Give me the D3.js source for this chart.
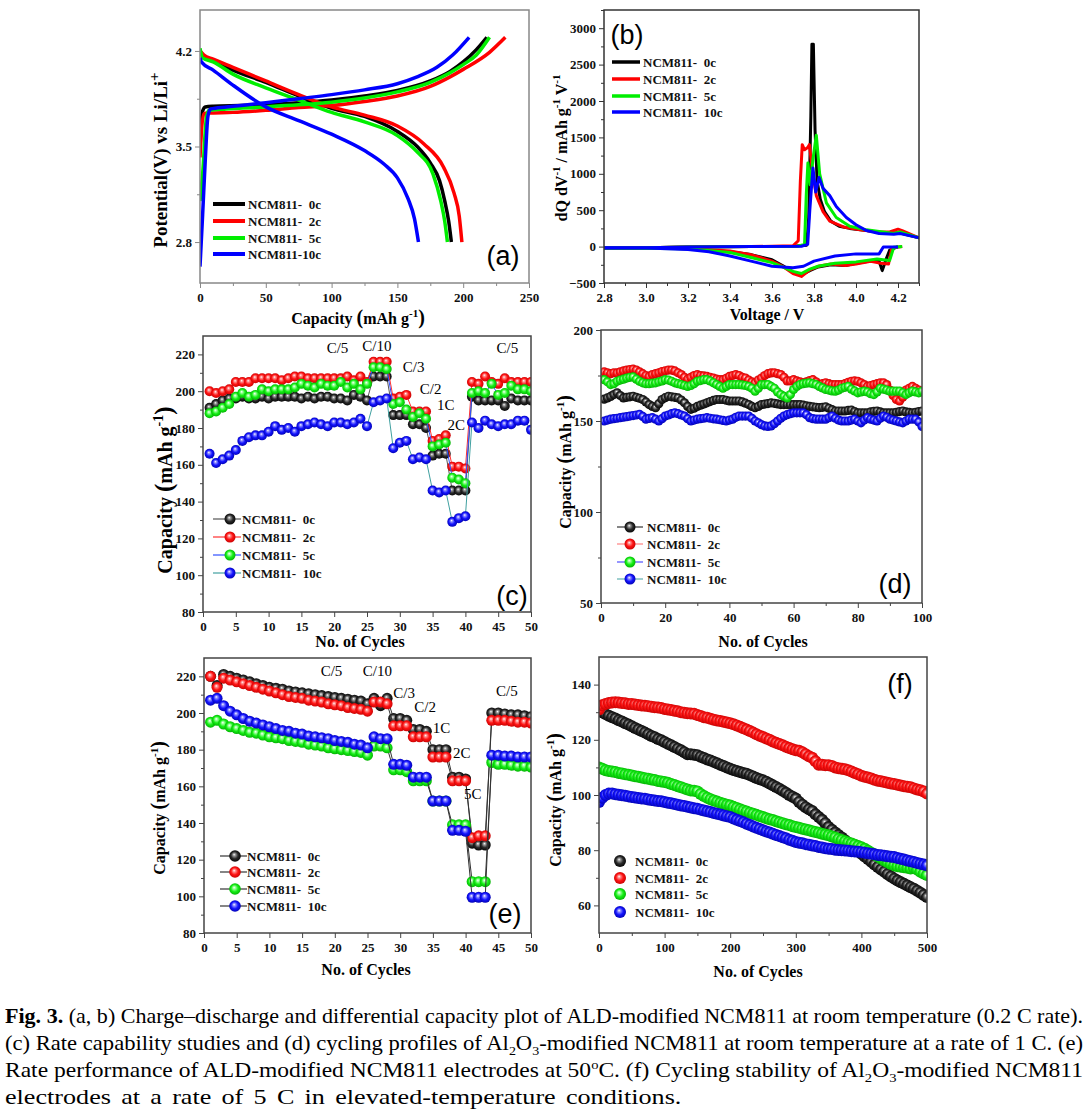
<!DOCTYPE html>
<html><head><meta charset="utf-8">
<script src="https://cdn.jsdelivr.net/npm/d3@7"></script>
<style>
body{margin:0;background:#fff;}
#caption{position:absolute;left:5px;top:1003px;width:1079px;font-family:"Liberation Serif","Times New Roman",serif;font-size:21px;line-height:27px;color:#000;}
#caption .ln{height:27px;white-space:nowrap;}
#caption .ln span{display:inline-block;white-space:nowrap;transform-origin:0 0;}
#caption sub{font-size:13px;line-height:0;}
#caption sup{font-size:13px;line-height:0;}
</style></head>
<body>
<svg id="fig" width="1090" height="1000"></svg>
<div id="caption">
<div class="ln"><span><b>Fig. 3.</b> (a, b) Charge–discharge and differential capacity plot of ALD-modified NCM811 at room temperature (0.2 C rate).</span></div>
<div class="ln"><span>(c) Rate capability studies and (d) cycling profiles of Al<sub>2</sub>O<sub>3</sub>-modified NCM811 at room temperature at a rate of 1 C. (e)</span></div>
<div class="ln"><span>Rate performance of ALD-modified NCM811 electrodes at 50<sup>o</sup>C. (f) Cycling stability of Al<sub>2</sub>O<sub>3</sub>-modified NCM811</span></div>
<div class="ln"><span>electrodes at a rate of 5 C in elevated-temperature conditions.</span></div>
</div>
<script>
// ---------------- DATA ----------------
const seriesNames = ["NCM811-  0c","NCM811-  2c","NCM811-  5c","NCM811-  10c"];
const seriesNamesA = ["NCM811-  0c","NCM811-  2c","NCM811-  5c","NCM811-10c"];

// (a) charge / discharge curves [capacity mAh/g, potential V]
const aChargeK = [[0,3.48],[1,3.68],[2,3.76],[4,3.79],[10,3.795],[30,3.80],[50,3.805],[75,3.82],[100,3.84],[125,3.87],[150,3.91],[175,3.98],[190,4.05],[200,4.12],[210,4.21],[218,4.30]];
const aChargeR = [[0,3.42],[1,3.6],[3,3.74],[6,3.745],[25,3.75],[50,3.765],[75,3.785],[100,3.80],[125,3.83],[150,3.87],[175,3.94],[190,4.01],[200,4.065],[220,4.19],[232,4.30]];
const aChargeG = [[0,3.10],[2,3.3],[5,3.72],[7,3.765],[20,3.775],[50,3.79],[75,3.805],[100,3.825],[125,3.855],[150,3.90],[175,3.97],[190,4.04],[200,4.10],[210,4.17],[220,4.30]];
const aChargeB = [[0,2.62],[2,3.0],[4,3.4],[6,3.72],[8,3.775],[20,3.79],[50,3.82],[75,3.85],[100,3.88],[125,3.915],[150,3.96],[165,4.01],[180,4.08],[192,4.17],[204.5,4.30]];
const aDisK = [[0,4.2],[3,4.16],[10,4.13],[25,4.06],[50,3.97],[75,3.87],[100,3.78],[125,3.72],[150,3.61],[165,3.50],[175,3.38],[182,3.25],[186,3.10],[189,2.95],[191,2.80]];
const aDisR = [[0,4.2],[3,4.17],[10,4.14],[25,4.08],[50,3.98],[75,3.88],[100,3.79],[125,3.73],[150,3.65],[170,3.52],[185,3.35],[193,3.16],[197,2.99],[199,2.80]];
const aDisG = [[0,4.22],[2,4.15],[10,4.12],[25,4.03],[50,3.93],[75,3.84],[100,3.75],[125,3.68],[150,3.58],[165,3.46],[177,3.30],[183,3.10],[186,2.95],[188,2.80]];
const aDisB = [[0,4.15],[1,4.12],[10,4.06],[25,3.95],[50,3.79],[75,3.69],[100,3.59],[125,3.47],[140,3.37],[150,3.27],[158,3.12],[163,2.97],[166,2.80]];
const aXTicks = [0,50,100,150,200,250];
const aXMinor = [25,75,125,175,225];
const aYTicks = [2.8,3.5,4.2];
const aYMinor = [3.15,3.85];

// (b) dQ/dV [voltage V, dQ/dV]
const bChgK = [[2.8,-20],[3.0,-15],[3.2,-5],[3.5,0],[3.7,5],[3.765,20],[3.775,400],[3.785,1800],[3.79,2780],[3.797,2780],[3.805,1600],[3.815,900],[3.83,650],[3.85,480],[3.88,350],[3.92,280],[3.97,250],[4.05,220],[4.1,200],[4.15,180],[4.2,190],[4.22,180],[4.3,120]];
const bChgR = [[2.8,-20],[3.0,-15],[3.2,-5],[3.5,0],[3.7,10],[3.725,80],[3.735,900],[3.744,1400],[3.755,1330],[3.77,1360],[3.778,1400],[3.786,1200],[3.795,1000],[3.811,700],[3.843,480],[3.875,350],[3.94,270],[4.02,230],[4.10,200],[4.16,200],[4.2,240],[4.22,220],[4.3,120]];
const bChgG = [[2.8,-20],[3.0,-15],[3.2,-5],[3.5,0],[3.72,5],[3.755,30],[3.763,700],[3.771,1150],[3.782,850],[3.795,1200],[3.811,1530],[3.827,1000],[3.859,600],[3.906,400],[3.97,280],[4.05,230],[4.18,180],[4.21,200],[4.3,120]];
const bChgB = [[2.8,-20],[3.0,-15],[3.2,-5],[3.5,0],[3.74,5],[3.77,30],[3.78,500],[3.795,1080],[3.808,750],[3.824,950],[3.843,800],[3.875,700],[3.906,550],[3.954,400],[4.0,300],[4.05,220],[4.11,180],[4.18,170],[4.21,180],[4.27,140],[4.3,120]];
const bDisK = [[4.2,0],[4.16,-50],[4.14,-200],[4.125,-330],[4.11,-200],[4.06,-200],[4.0,-230],[3.95,-260],[3.88,-250],[3.82,-280],[3.78,-330],[3.74,-390],[3.7,-350],[3.65,-260],[3.6,-180],[3.5,-110],[3.4,-70],[3.2,-30],[3.0,-20],[2.8,-20]];
const bDisR = [[4.22,0],[4.17,-20],[4.155,-240],[4.12,-230],[4.07,-200],[4.0,-240],[3.95,-260],[3.88,-240],[3.82,-270],[3.78,-320],[3.74,-410],[3.7,-370],[3.65,-270],[3.6,-200],[3.5,-110],[3.4,-60],[3.2,-25],[2.8,-20]];
const bDisG = [[4.22,0],[4.18,-10],[4.16,-190],[4.1,-170],[4.0,-210],[3.9,-230],[3.82,-270],[3.78,-310],[3.74,-370],[3.7,-340],[3.65,-280],[3.6,-220],[3.5,-150],[3.4,-80],[3.2,-30],[2.8,-20]];
const bDisB = [[4.2,-5],[4.13,-5],[4.11,-100],[4.0,-100],[3.9,-130],[3.8,-200],[3.75,-270],[3.7,-290],[3.6,-270],[3.5,-200],[3.4,-130],[3.3,-70],[3.2,-40],[3.0,-20],[2.8,-15]];
const bXTicks = [2.8,3.0,3.2,3.4,3.6,3.8,4.0,4.2];
const bXMinor = [2.9,3.1,3.3,3.5,3.7,3.9,4.1,4.3];
const bYTicks = [-500,0,500,1000,1500,2000,2500,3000];
const bYMinor = [-250,250,750,1250,1750,2250,2750,3250];

// (c) rate capability, room temperature, cycles 1..50
const cCycles = d3.range(1,51);
const cK = [191,193,195,196,196,197,196,196,197,196,197,197,197,197,196,197,196,197,197,196,196,195,198,197,195, 208,208,208, 187,187,187, 182,182,180, 165,166,166, 146,146,146, 197,195,195,195,195,192,196,195,195,195];
const cR = [200,199,200,201,205,205,205,207,207,207,207,206,207,208,208,207,207,207,207,207,207,208,206,208,205, 216,216,216, 196,197,198, 189,189,189, 173,174,176, 159,159,158, 205,204,208,205,204,207,205,205,205,205];
const cG = [188,189,191,193,197,199,197,198,201,200,201,201,201,202,204,203,202,204,203,203,205,202,204,201,204, 213,213,212, 193,194,190, 186,188,185, 170,171,172, 153,152,150, 199,200,199,204,198,199,203,201,201,200];
const cB = [166,161,163,165,168,173,175,176,176,178,181,179,180,178,181,182,183,182,181,183,183,182,183,185,181, 194,195,196, 169,172,173, 163,164,163, 146,145,146, 129,131,132, 183,180,184,182,181,182,182,184,184,179];
const cRates = [["C/5",20.5,220.5],["C/10",26.5,222],["C/3",32.1,210.4],["C/2",34.7,198.4],["1C",37,189.9],["2C",38.6,178.7],["C/5",46.4,220.5]];

// (d) cycling at 1 C, cycles 1..100
const dCycles = d3.range(1,101);
const dK = [162,162.7,163.5,164.5,165.5,164,162.7,163,163.3,163.6, 163,162.5,161.8,160.5,159,158,157.3,159.5,161.8,162.8, 163.6,163.3,163,162.7,161.5,160,158,156.4,157,158, 158.7,159.3,160,160.7,161.3,161.8,161.8,161.8,161.4,161, 161,161,161,160.5,159.8,159,158,157.3,158,159, 159.3,159.6,160,159.7,159.4,159,159,159,159,159, 159,159,158.7,158.3,158,157.8,157.5,157.3,157.5,157.8, 157,156.2,155.5,155.5,155.5,155.5,155.8,156,155.2,154.5, 154.5,154.5,154.5,155,155.3,155.5,155,154.5,154.5,154.5, 154.5,154.8,155.2,155.5,155,154.7,154.5,154.8,155.2,155.5];
const dR = [177,176.5,176,176.5,176.4,177,177.5,178,178.3,178.5, 178,177,176,175,174.5,175.5,176,176.5,177.2,177.6, 178,178,177.5,176.5,175.5,174,173,174,175,175.5, 175,174.8,174.5,174,173.6,173,172.7,172.7,173.5,174.5, 175,175.5,175,174,173.6,172.5,171.5,171,172.5,173.6, 175,176,176.4,176.5,176,175.5,174,172,172,172.7, 172,171.5,171,171.5,172.2,172.7,171.5,170,170.5,171, 170.5,170,170,170,170,170.5,171.3,171.8,172,171.8, 171,170,169,169.5,170,170.5,171,171,170,167, 164,161.8,161,163,167,168,169,168,167,166];
const dG = [172.7,171.5,170,170.5,171.8,172.5,173,173.6,174,174.2, 173,171.8,171,170.5,170.5,170.8,171,171.5,172,172.7, 172.5,171.8,171,170.5,170,169.5,169,169.5,170.5,171.8, 172.2,172.7,172.7,172,171,170,169,168,169,170, 170,170,170,169.8,169.5,169,168,166.4,168,170, 170,170,169,168,166,164.5,163.5,162.7,164.5,167.3, 169,170,170.5,170.8,171,170.5,170,169,168.2,167.3, 167,166.5,166.4,167,168,168.5,169,167.5,166.5,165.5, 166,166.4,166,165,164.5,166,168,167.5,167,166.4, 166.4,166.4,166.4,165.5,164.5,165.5,166.4,166,165.5,166.4];
const dB = [150,150.5,151,151.3,151.5,151.8,152.1,152.4,152.7,153, 153.3,153.6,152.5,151,151.4,151.8,151,150,151.3,152.7, 153.3,154,154.5,154,153.3,152.7,151.3,150,150.5,151, 151.3,151.5,151.8,151.5,151.2,151,150.7,150.3,150,150.5, 151,152,152.7,152.7,152.7,152.7,151.5,150,149,148, 147.3,147,147.3,148.5,150,151.5,152.7,153.5,154,154.5, 154.5,154.5,154.5,153.5,151.8,151.3,151,151,151,151, 151.8,152.7,151.5,150.5,150,150,150,150.5,151,150, 149,150.5,151.8,151,150.5,150,151.5,152.7,152,151, 150.5,150,149.5,149,150,151,151,151,149.5,147];

// (e) rate performance at 50 C, cycles 1..50
const eCycles = d3.range(1,51);
const eK = [220,215,221,220,219,218,217,216,215,214,213.5,213,212,211.5,211,210.5,210,209.5,209,208.5,208,207.5,207,206.5,205, 208,204,208, 197,197,196, 191,191,190, 180,180,180, 165,165,164, 129,128,128, 200,200,199.5,199,199,198.5,198];
const eR = [220,214,219,218,217,216,215,214,213,212,211,210,209,208.5,208,207,206.5,206,205,204.5,204,203,202.5,202,201, 206,206,205, 193,193,193, 187,187,187, 176,176,176, 163,163,163, 132,133,133, 196,196,196,195.5,195,195,194.5];
const eG = [195,196,194,192.5,191.5,190.5,189.5,189,188,187,186.5,186,185,184.5,184,183,182.5,182,181,180.5,180,179.5,179,178.5,177, 182,182,181, 169,169,168, 163,163,163, 152,152,152, 139,139,139, 108,108,108, 173,172,172,171.5,171,171,170.5];
const eB = [207,208,204,201,199,197,195.5,194.5,193.5,192.5,191.5,190.5,190,189,188.5,187.5,187,186.5,186,185,184.5,184,183,182.5,181, 187,186,186, 172,172,171.5, 165,165,165, 152,152,152, 136,136,135.5, 99.5,99.5,99.5, 177,177,176.5,176.5,176,176,176];
const eRates = [["C/5",19.5,220],["C/10",26.5,220],["C/3",30.6,208],["C/2",33.8,200.5],["1C",36.3,189],["2C",39.4,175.2],["5C",41.1,153],["C/5",46.3,209.5]];

// (f) cycling at 5 C, cycles 0..500 every 5
const fCycles = d3.range(0,501,5);
const fK = [130.5,130,129.3,128.7,128.2,127.7,127.1,126.6,126,125.5, 124.9,124.3,123.7,123.2,122.6,122,121.4,120.9,120.3,119.8, 119.2,118.6,118,117.4,116.8,116.2,115.5,114.8,114.8,114.6, 114.4,113.9,113.4,112.9,112.5,112,111.5,111,110.5,110, 109.5,109.1,108.7,108.3,108,107.7,107.2,106.7,106.2,105.7, 105.3,104.8,104.2,103.5,102.9,102.3,101.5,100.8,100,99.4, 98.7,97.5,96.5,95.6,94.8,94.2,93,92,91,89.8, 88.4,87.4,86.4,85.5,84.6,83.6,82.6,81.6,80.6,79.6, 78.7,77.7,76.8,75.8,74.8,73.9,73,72.2,71.3,70.5, 69.7,69,68.4,67.8,67.2,66.6,66,65.3,64.6,63.8, 63];
const fR = [131,132.5,133,133.3,133.5,133.6,133.5,133.3,133.2,133, 133,132.8,132.6,132.4,132.3,132.2,132,131.8,131.7,131.5, 131.2,131,130.8,130.5,130.3,130,129.8,129.6,129.5,129.4, 129,128.6,128.2,128,127.6,127.3,127,126.8,126.5,126.3, 126,125.6,125.2,124.7,124.2,123.7,123.2,122.6,122,121.5, 121,120.5,120,119.4,118.9,118.5,118,117.5,117,116.6, 116.2,116,115.5,114.8,114,113.5,112.2,111,111,110.8, 110.8,110.5,110,109.7,109.5,109.3,109,108.5,108,107.5, 107,106.6,106.3,106,105.5,105.2,105,104.7,104.4,104.2, 104,103.7,103.4,103.2,103,102.8,102.4,102,101.7,101.3, 100.5];
const fG = [110,109.5,109,108.7,108.5,108.3,108,107.8,107.5,107.3, 107.1,106.8,106.6,106.3,106.1,105.9,105.6,105.4,105.1,104.9, 104.7,104.4,104,103.6,103.2,102.8,102.4,102,101.6,101.5, 101.3,100.4,99.6,99,98.5,98,97.6,97.2,96.8,96.5, 96.2,95.7,95.3,94.8,94.4,94,93.6,93.2,92.8,92.4, 92,91.6,91.2,90.9,90.5,90.1,89.8,89.4,89.1,88.7, 88.4,88.1,87.8,87.5,87.2,86.9,86.6,86.3,86,85.7, 85.4,85,84.6,84.1,83.7,83.2,82.8,82.4,82,81.5, 81.1,80.5,79.8,79.1,78.4,77.7,77,76.3,75.6,75, 74.5,74.2,74,73.8,73.6,73.4,73.6,73,72.2,71.6, 71];
const fB = [97.5,99,100,100.5,100.5,100.3,100.1,99.9,99.7,99.5, 99.3,99.1,98.9,98.7,98.6,98.4,98.2,98,97.8,97.7, 97.5,97.2,97,96.7,96.5,96.2,96,95.7,95.5,95.2, 95,94.7,94.4,94.1,93.8,93.5,93.2,92.9,92.6,92.3, 92,91.5,91,90.6,90.1,89.6,89.1,88.6,88.1,87.7, 87.2,86.8,86.4,86,85.5,85.1,84.7,84.3,83.8,83.4, 83,82.7,82.5,82.2,82,81.7,81.5,81.2,81,80.7, 80.5,80.4,80.2,80.1,80,79.9,79.8,79.6,79.5,79.4, 79.3,79.1,78.9,78.7,78.5,78.3,78.2,78,77.8,77.6, 77.5,77.2,76.9,76.6,76.3,76,75.7,75.4,75.1,74.8, 74.5];

const rateXTicks = [0,5,10,15,20,25,30,35,40,45,50];
const rateYTicks = [80,100,120,140,160,180,200,220];
const rateYMinor = [90,110,130,150,170,190,210];
const dXTicks = [0,20,40,60,80,100];
const dXMinor = [10,30,50,70,90];
const dYTicks = [50,100,150,200];
const dYMinor = [75,125,175];
const fXTicks = [0,100,200,300,400,500];
const fXMinor = [50,150,250,350,450];
const fYTicks = [60,80,100,120,140];
const fYMinor = [70,90,110,130];

// ---------------- DRAWING ----------------
const SERIF = '"Liberation Serif","Times New Roman",serif';
const SANS = '"Liberation Sans",Arial,sans-serif';
const svg = d3.select('#fig');
const defs = svg.append('defs');
const LINE = {k:'#000000', r:'#ff0000', g:'#00ee00', b:'#0000ff'};

function ballGrad(id, cols){
  const gr = defs.append('radialGradient').attr('id',id)
    .attr('cx','0.5').attr('cy','0.5').attr('r','0.55').attr('fx','0.42').attr('fy','0.36');
  [0,0.2,0.55,1].forEach((o,i)=>gr.append('stop').attr('offset',o).attr('stop-color',cols[i]));
}
ballGrad('ballK',['#ffffff','#9a9a9a','#2a2a2a','#000000']);
ballGrad('ballR',['#ffffff','#ff9090','#ff1414','#c00000']);
ballGrad('ballG',['#ffffff','#a0ffa0','#16f016','#00a800']);
ballGrad('ballB',['#ffffff','#9090ff','#1414ff','#0000a8']);

let clipN = 0;
function panel(o){
  const g = svg.append('g');
  const x = d3.scaleLinear().domain(o.xd).range([o.L,o.R]);
  const y = d3.scaleLinear().domain(o.yd).range([o.B,o.T]);
  const fc = o.frame || '#444';
  const ax = (sel)=>{ sel.select('.domain').remove(); sel.selectAll('line').attr('stroke',fc);
    sel.selectAll('text').style('font-family',SERIF).style('font-size','13px').style('font-weight','bold').attr('fill','#111'); };
  if(o.xMinor) g.append('g').attr('transform',`translate(0,${o.B})`).call(d3.axisBottom(x).tickValues(o.xMinor).tickSize(3).tickFormat('')).call(ax);
  g.append('g').attr('transform',`translate(0,${o.B})`).call(d3.axisBottom(x).tickValues(o.xt).tickSize(5).tickPadding(5).tickFormat(o.xf)).call(ax);
  if(o.yMinor) g.append('g').attr('transform',`translate(${o.L},0)`).call(d3.axisLeft(y).tickValues(o.yMinor).tickSize(3).tickFormat('')).call(ax);
  g.append('g').attr('transform',`translate(${o.L},0)`).call(d3.axisLeft(y).tickValues(o.yt).tickSize(5).tickPadding(3).tickFormat(o.yf)).call(ax);
  const id = 'clip'+(clipN++);
  defs.append('clipPath').attr('id',id).append('rect').attr('x',o.L).attr('y',o.T).attr('width',o.R-o.L).attr('height',o.B-o.T);
  const plot = g.append('g').attr('clip-path',`url(#${id})`);
  g.append('rect').attr('x',o.L).attr('y',o.T).attr('width',o.R-o.L).attr('height',o.B-o.T)
    .attr('fill','none').attr('stroke',fc).attr('stroke-width',o.fw||1.5);
  return {g,x,y,plot};
}

function curve(p, pts, color, w){
  p.plot.append('path').datum(pts)
    .attr('d', d3.line().x(d=>p.x(d[0])).y(d=>p.y(d[1])).curve(d3.curveMonotoneX))
    .attr('fill','none').attr('stroke',color).attr('stroke-width',w).attr('stroke-linejoin','round');
}
function curveAny(p, pts, color, w){
  p.plot.append('path').datum(pts)
    .attr('d', d3.line().x(d=>p.x(d[0])).y(d=>p.y(d[1])).curve(d3.curveLinear))
    .attr('fill','none').attr('stroke',color).attr('stroke-width',w).attr('stroke-linejoin','round');
}
function balls(p, xs, ys, grad, r, lineColor){
  const pts = ys.map((v,i)=>[xs[i],v]);
  if(lineColor) p.plot.append('path').datum(pts)
    .attr('d', d3.line().x(d=>p.x(d[0])).y(d=>p.y(d[1])))
    .attr('fill','none').attr('stroke',lineColor).attr('stroke-width',1);
  p.plot.append('g').selectAll('circle').data(pts).join('circle')
    .attr('cx',d=>p.x(d[0])).attr('cy',d=>p.y(d[1])).attr('r',r).attr('fill',`url(#${grad})`);
}
function label(x,y,txt,opt={}){
  const t = svg.append('text').attr('x',x).attr('y',y).attr('text-anchor',opt.anchor||'middle')
    .style('font-size',(opt.size||16)+'px').style('font-weight',opt.weight||'bold')
    .style('font-family',opt.family||SERIF).attr('fill','#000');
  if(opt.rot) t.attr('transform',`rotate(-90,${x},${y})`);
  if(typeof txt==='string') t.text(txt);
  else txt.forEach(s=>{ const ts=t.append('tspan').text(s.t); if(s.dy) ts.attr('dy',s.dy); if(s.size) ts.style('font-size',s.size+'px'); });
  return t;
}
function capLabel(k){ return [{t:'Capacity '},{t:'(',size:Math.round(20*k)},{t:'mAh g'},{t:'-1',dy:-7*k,size:Math.round(11*k)},{t:')',dy:7*k,size:Math.round(20*k)}]; }
function panelLetter(x,y,s){ label(x,y,s,{size:27,weight:'normal',family:SANS}); }
function legendText(x,y,s){
  svg.append('text').attr('x',x).attr('y',y+4.5).style('font-size','13px').style('font-weight','bold')
    .style('font-family',SERIF).style('white-space','pre').attr('fill','#111').text(s);
}
function legendBall(cx,y,grad,r,lx0,lx1,lc){
  if(lc) svg.append('line').attr('x1',lx0).attr('x2',lx1).attr('y1',y).attr('y2',y).attr('stroke',lc).attr('stroke-width',1.2);
  svg.append('circle').attr('cx',cx).attr('cy',y).attr('r',r).attr('fill',`url(#${grad})`);
}
const grads = ['ballK','ballR','ballG','ballB'];
const cols = [LINE.k,LINE.r,LINE.g,LINE.b];

// ----- (a)
{
  const p = panel({L:200,R:529,T:10,B:283,xd:[0,250],yd:[2.5,4.5],xt:aXTicks,xMinor:aXMinor,yt:aYTicks,yMinor:aYMinor,
    xf:d3.format('d'),yf:d3.format('.1f'),frame:'#888'});
  [[aChargeK,aDisK],[aChargeR,aDisR],[aChargeG,aDisG],[aChargeB,aDisB]].forEach((pr,i)=>{
    curve(p,pr[0],cols[i],3.5); curve(p,pr[1],cols[i],3.5);
  });
  const ly=[204,221,238,254];
  seriesNamesA.forEach((s,i)=>{
    svg.append('line').attr('x1',213).attr('x2',245).attr('y1',ly[i]).attr('y2',ly[i]).attr('stroke',cols[i]).attr('stroke-width',4);
    legendText(248,ly[i],s);
  });
  panelLetter(503,265,'(a)');
  label(358,324,capLabel(1));
  label(167,160,[{t:'Potential(V) vs Li/Li'},{t:'+',dy:-8,size:15}],{rot:true,size:19});
}
// ----- (b)
{
  const p = panel({L:604,R:919,T:10,B:283,xd:[2.8,4.3],yd:[-500,3250],xt:bXTicks,xMinor:bXMinor,yt:bYTicks,yMinor:bYMinor,
    xf:d3.format('.1f'),yf:d3.format('d'),frame:'#333'});
  [[bChgK,bDisK],[bChgR,bDisR],[bChgG,bDisG],[bChgB,bDisB]].forEach((pr,i)=>{
    curveAny(p,pr[0],cols[i],3); curveAny(p,pr[1],cols[i],3);
  });
  const ly=[62,79,96,112];
  seriesNames.forEach((s,i)=>{
    svg.append('line').attr('x1',612).attr('x2',640).attr('y1',ly[i]).attr('y2',ly[i]).attr('stroke',cols[i]).attr('stroke-width',3.5);
    legendText(643,ly[i],s);
  });
  panelLetter(627,44,'(b)');
  label(767,320,'Voltage / V');
  label(567,148,[{t:'dQ dV'},{t:'-1',dy:-7,size:11},{t:' / mAh g',dy:7},{t:'-1',dy:-7,size:11},{t:' V',dy:7},{t:'-1',dy:-7,size:11}],{rot:true});
}
// ----- (c)
{
  const p = panel({L:203,R:531,T:336,B:612,xd:[0,50],yd:[80,230],xt:rateXTicks,yt:rateYTicks,yMinor:rateYMinor,
    xf:d3.format('d'),yf:d3.format('d')});
  const lc = ['#555555','#ff3030','#3050ff','#40a0a0'];
  [cK,cR,cG,cB].forEach((s,i)=>balls(p,cCycles,s,grads[i],5,lc[i]));
  cRates.forEach(r=>label(p.x(r[1]),p.y(r[2]),r[0],{size:15,weight:'normal'}));
  const ly=[519,537,555,573];
  seriesNames.forEach((s,i)=>{ legendBall(230,ly[i],grads[i],5.5,213,241,lc[i]); legendText(242,ly[i],s); });
  panelLetter(512,605,'(c)');
  label(360,647,'No. of Cycles');
  label(172,490,capLabel(1.25),{rot:true,size:20});
}
// ----- (d)
{
  const p = panel({L:601,R:922,T:330,B:603,xd:[0,100],yd:[50,200],xt:dXTicks,xMinor:dXMinor,yt:dYTicks,yMinor:dYMinor,
    xf:d3.format('d'),yf:d3.format('d')});
  const lc = ['#333333','#ff8080','#5050ff','#60b0b0'];
  [dK,dR,dG,dB].forEach((s,i)=>balls(p,dCycles,s,grads[i],4.6,null));
  const ly=[527,544,562,579];
  seriesNames.forEach((s,i)=>{ legendBall(630,ly[i],grads[i],5.5,617,643,lc[i]); legendText(647,ly[i],s); });
  panelLetter(895,593,'(d)');
  label(763,647,'No. of Cycles');
  label(571,462,capLabel(1),{rot:true});
}
// ----- (e)
{
  const p = panel({L:204,R:531,T:658,B:933,xd:[0,50],yd:[80,230],xt:rateXTicks,yt:rateYTicks,yMinor:rateYMinor,
    xf:d3.format('d'),yf:d3.format('d')});
  [eK,eR,eG,eB].forEach((s,i)=>balls(p,eCycles,s,grads[i],5.5,'#333'));
  eRates.forEach(r=>label(p.x(r[1]),p.y(r[2]),r[0],{size:15,weight:'normal'}));
  const ly=[856,872,889,906];
  seriesNames.forEach((s,i)=>{ legendBall(235,ly[i],grads[i],5.8,220,247,'#333'); legendText(247,ly[i],s); });
  panelLetter(505,923,'(e)');
  label(366,975,'No. of Cycles');
  label(165,808,capLabel(1),{rot:true});
}
// ----- (f)
{
  const p = panel({L:599,R:927,T:657,B:933,xd:[0,500],yd:[50,150],xt:fXTicks,xMinor:fXMinor,yt:fYTicks,yMinor:fYMinor,
    xf:d3.format('d'),yf:d3.format('d')});
  [fK,fR,fG,fB].forEach((s,i)=>balls(p,fCycles,s,grads[i],6,null));
  const ly=[861,878,894,912];
  seriesNames.forEach((s,i)=>{ legendBall(620,ly[i],grads[i],6,0,0,null); legendText(635,ly[i],s); });
  panelLetter(900,693,'(f)');
  label(758,977,'No. of Cycles');
  label(561,800,capLabel(1),{rot:true});
}

// caption: fit justified lines to the column width; last line slightly wider glyphs, modest gaps
{
  const spans = Array.from(document.querySelectorAll('#caption .ln span'));
  const ks = [];
  spans.slice(0,3).forEach(s=>{ const w = s.getBoundingClientRect().width; const k = 1078/w; ks.push(k); s.style.transform = `scaleX(${k})`; });
  const k4 = d3.mean(ks) * 1.15;
  const last = spans[3];
  const w4 = last.getBoundingClientRect().width;
  const nSp = (last.textContent.match(/ /g) || []).length;
  const extra = Math.min(3, Math.max(0, (730 / k4 - w4) / nSp));
  last.style.wordSpacing = extra + 'px';
  last.style.transform = `scaleX(${k4})`;
}
</script>
</body></html>
